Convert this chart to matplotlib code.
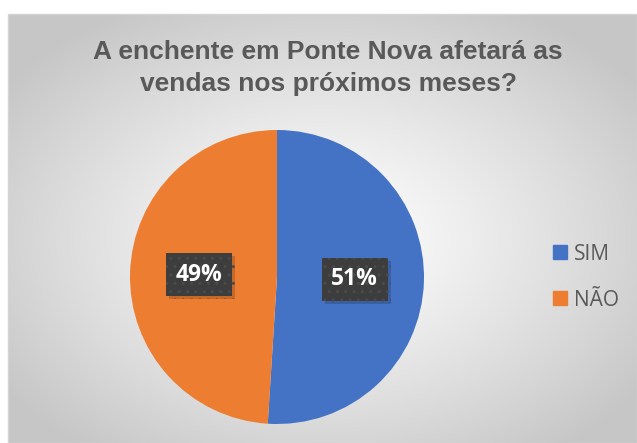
import numpy as np
import matplotlib
matplotlib.use("Agg")
import matplotlib.pyplot as plt
import matplotlib.patheffects as pe
from matplotlib.patches import Rectangle
from matplotlib.lines import Line2D

# data
categories = ["SIM", "NÃO"]
values = [51, 49]
colors = ["#4472C4", "#ED7D31"]
title = "A enchente em Ponte Nova afetará as\nvendas nos próximos meses?"

W, H = 637, 443
fig = plt.figure(figsize=(W / 100, H / 100), dpi=100)
fig.patch.set_facecolor("white")

# background with radial gradient (chart area)
bg = fig.add_axes([0, 0, 1, 1])
bg.set_xlim(0, W)
bg.set_ylim(H, 0)
bg.axis("off")
x0, y0 = 8, 14
xs = np.linspace(x0, W, 300)
ys = np.linspace(y0, H, 220)
X, Y = np.meshgrid(xs, ys)
cx, cy = (x0 + W) / 2, (y0 + H) / 2 + 10
d = np.sqrt(((X - cx) / ((W - x0) / 2)) ** 2 + ((Y - cy) / ((H - y0) / 2)) ** 2) / np.sqrt(2)
g = 1.0 - 0.22 * np.clip(d * 1.15, 0, 1) ** 1.2
img = np.dstack([g, g, g])
bg.imshow(img, extent=[x0, W, H, y0], aspect="auto", interpolation="bilinear", zorder=0)
bg.add_patch(Rectangle((x0, y0), W - x0, H - y0, fill=False, ec="#d4d4d4", lw=1, zorder=1))

fig.text(328 / W, 1 - 68 / H, title, ha="center", va="center", fontsize=19,
         fontweight="bold", color="#595959", family="Liberation Sans", linespacing=1.38)

# pie
pcx, pcy, r = 277, 277, 147
ax = fig.add_axes([(pcx - r) / W, (H - pcy - r) / H, 2 * r / W, 2 * r / H])
wedges, texts, autotexts = ax.pie(values, colors=colors, startangle=90, counterclock=False,
                                  autopct="%1.0f%%", pctdistance=0.53,
                                  textprops=dict(color="white", fontsize=16.5, fontweight="bold",
                                                 family="Open Sans"))
for t in autotexts:
    t.set_bbox(dict(boxstyle="square,pad=0.42", fc="#3d3d3d", ec="#4b4b4b", hatch="..", lw=0))
    t.get_bbox_patch().set_path_effects([pe.SimplePatchShadow(offset=(2, -2), alpha=0.18),
                                         pe.Normal()])
ax.set_xlim(-1, 1)
ax.set_ylim(-1, 1)
ax.set_aspect("equal")
ax.axis("off")

handles = [Line2D([], [], marker="s", linestyle="none", markersize=9.5, markerfacecolor=c,
                  markeredgecolor=c) for c in colors]
fig.legend(handles, categories, loc="center left", bbox_to_anchor=(553 / W, 1 - 277 / H),
           frameon=False, handlelength=0.7, handletextpad=0.3, labelspacing=1.2,
           borderpad=0, borderaxespad=0,
           prop=dict(family="Open Sans", size=15), labelcolor="#595959")

fig.savefig("out.png", dpi=100)
